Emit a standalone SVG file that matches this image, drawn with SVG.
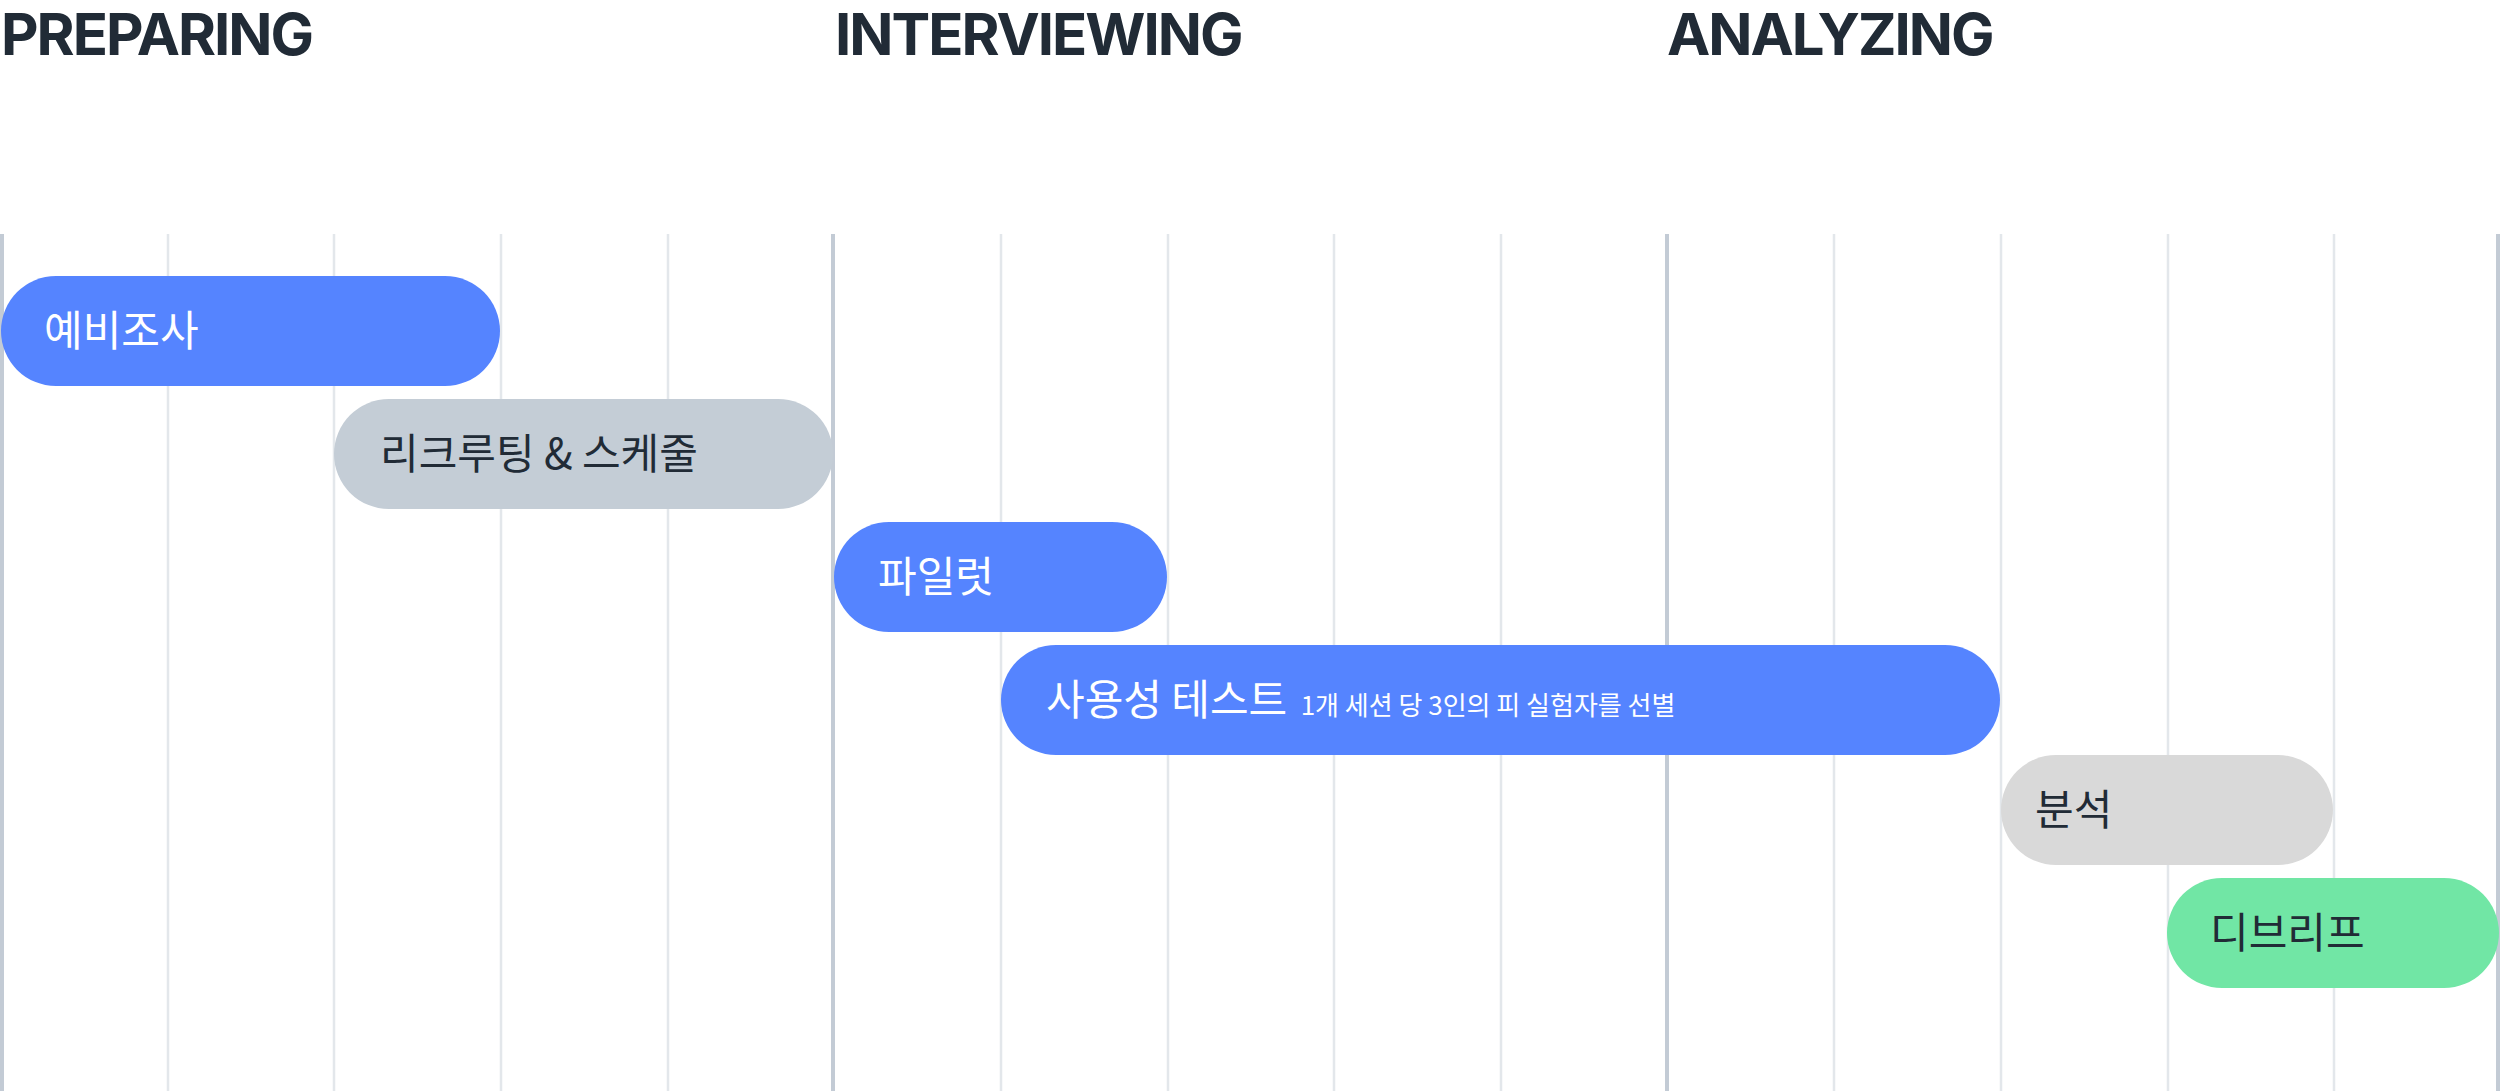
<svg xmlns="http://www.w3.org/2000/svg" width="2500" height="1091" viewBox="0 0 2500 1091">
<style>
.title{font-family:Inter,"Liberation Sans",sans-serif;font-weight:700;font-size:58px;letter-spacing:-2px;fill:#212B36}
.grid{stroke:#E3E7EB;stroke-width:2.5}
.phase{stroke:#C3CBD5;stroke-width:4}
.lbl{font-family:"Noto Sans CJK KR","Noto Sans",sans-serif;font-size:42px}
.w{fill:#FFFFFF}
.d{fill:#212B36}
.blue{fill:#5584FF}
.slate{fill:#C4CDD6}
.grey{fill:#D9D9D9}
.green{fill:#71E6A5}
</style>
<rect width="2500" height="1091" fill="#FFFFFF"/>
<g id="titles">
<text class="title" x="1" y="55">PREPARING</text>
<text class="title" x="835" y="55">INTERVIEWING</text>
<text class="title" x="1667" y="55">ANALYZING</text>
</g>
<g id="grid">
<line class="grid" x1="168" y1="234" x2="168" y2="1091"/>
<line class="grid" x1="334" y1="234" x2="334" y2="1091"/>
<line class="grid" x1="501" y1="234" x2="501" y2="1091"/>
<line class="grid" x1="668" y1="234" x2="668" y2="1091"/>
<line class="grid" x1="1001" y1="234" x2="1001" y2="1091"/>
<line class="grid" x1="1168" y1="234" x2="1168" y2="1091"/>
<line class="grid" x1="1334" y1="234" x2="1334" y2="1091"/>
<line class="grid" x1="1501" y1="234" x2="1501" y2="1091"/>
<line class="grid" x1="1834" y1="234" x2="1834" y2="1091"/>
<line class="grid" x1="2001" y1="234" x2="2001" y2="1091"/>
<line class="grid" x1="2168" y1="234" x2="2168" y2="1091"/>
<line class="grid" x1="2334" y1="234" x2="2334" y2="1091"/>
<line class="phase" x1="2" y1="234" x2="2" y2="1091"/>
<line class="phase" x1="833" y1="234" x2="833" y2="1091"/>
<line class="phase" x1="1667" y1="234" x2="1667" y2="1091"/>
<line class="phase" x1="2498" y1="234" x2="2498" y2="1091"/>
</g>
<g id="bar-prestudy">
<rect class="blue" x="1" y="276" width="499" height="110" rx="55"/>
<text class="lbl w" x="44" y="346">예비조사</text>
</g>
<g id="bar-recruiting">
<rect class="slate" x="334" y="399" width="499" height="110" rx="55"/>
<text class="lbl d" x="380" y="469">리크루팅 &amp; 스케줄</text>
</g>
<g id="bar-pilot">
<rect class="blue" x="834" y="522" width="333" height="110" rx="55"/>
<text class="lbl w" x="878" y="592">파일럿</text>
</g>
<g id="bar-usability">
<rect class="blue" x="1001" y="645" width="999" height="110" rx="55"/>
<text class="lbl w" x="1046" y="715">사용성 테스트 <tspan font-size="26" dx="4">1개 세션 당 3인의 피 실험자를 선별</tspan></text>
</g>
<g id="bar-analysis">
<rect class="grey" x="2001" y="755" width="332" height="110" rx="55"/>
<text class="lbl d" x="2035" y="825">분석</text>
</g>
<g id="bar-debrief">
<rect class="green" x="2167" y="878" width="332" height="110" rx="55"/>
<text class="lbl d" x="2210" y="948">디브리프</text>
</g>
<g id="connectors"/>
</svg>
